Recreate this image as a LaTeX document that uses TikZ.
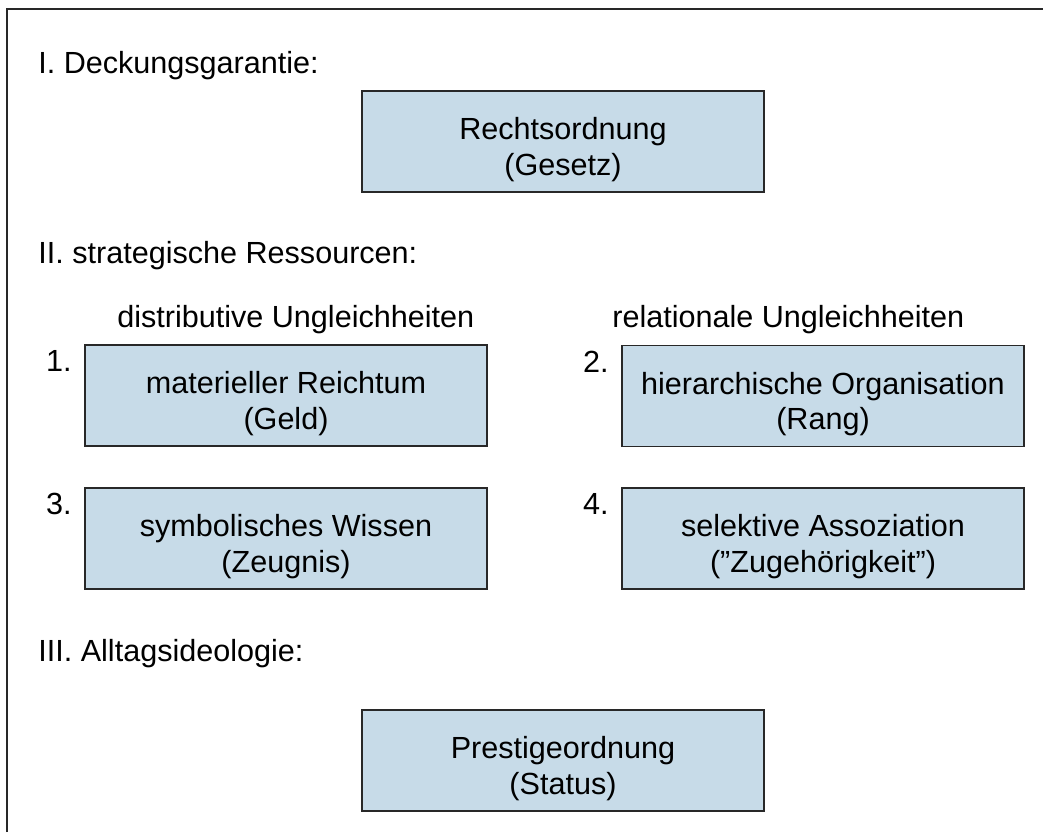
\documentclass[tikz,border=0pt]{standalone}
\usepackage{fontspec}
\setmainfont{Liberation Sans}
\usetikzlibrary{positioning}
\definecolor{feldblau}{RGB}{199,219,232}
\definecolor{rand}{RGB}{40,40,40}
\newcommand{\schrift}{\fontsize{17.4}{20.4}\selectfont}
\newcommand{\oben}{\rule{0pt}{1.25em}}
\tikzset{
  feld/.style={draw=rand,line width=1.1pt,fill=feldblau,minimum width=8.04cm,minimum height=2.02cm,align=center,inner sep=0pt,font=\schrift},
  titel/.style={anchor=base west,inner sep=0pt,font=\schrift},
  nummer/.style={inner sep=0pt,font=\schrift}
}
\begin{document}
\begin{tikzpicture}[x=0.02cm,y=-0.02cm]
        \useasboundingbox (0,0) rectangle (1043,832);
        \draw[rand,line width=1.2pt] (7,832) -- (7,9) -- (1043,9);
        \node[titel] (deckung) at (38,73) {I. Deckungsgarantie:};
        \node[titel] (ressourcen) at (38,263) {II. strategische Ressourcen:};
        \node[titel] (alltag) at (38,661) {III. Alltagsideologie:};
        \node[titel] (distributiv) at (117,327) {distributive Ungleichheiten};
        \node[titel] (relational) at (612,327) {relationale Ungleichheiten};
        \node[feld] (recht) at (563,141.5) {\oben Rechtsordnung\\(Gesetz)};
        \node[feld] (geld) at (286,395.5) {\oben materieller Reichtum\\(Geld)};
        \node[feld] (rang) at (823,396) {\oben hierarchische Organisation\\(Rang)};
        \node[feld] (wissen) at (286,538.5) {\oben symbolisches Wissen\\(Zeugnis)};
        \node[feld] (assoz) at (823,538.5) {\oben selektive Assoziation\\(”Zugehörigkeit”)};
        \node[feld] (prestige) at (563,760.5) {\oben Prestigeordnung\\(Status)};
        \node[nummer,below left=0.12cm and 0.24cm of geld.north west] (nr1) {1.};
        \node[nummer,below left=0.12cm and 0.24cm of rang.north west] (nr2) {2.};
        \node[nummer,below left=0.12cm and 0.24cm of wissen.north west] (nr3) {3.};
        \node[nummer,below left=0.12cm and 0.24cm of assoz.north west] (nr4) {4.};
\end{tikzpicture}
\end{document}
